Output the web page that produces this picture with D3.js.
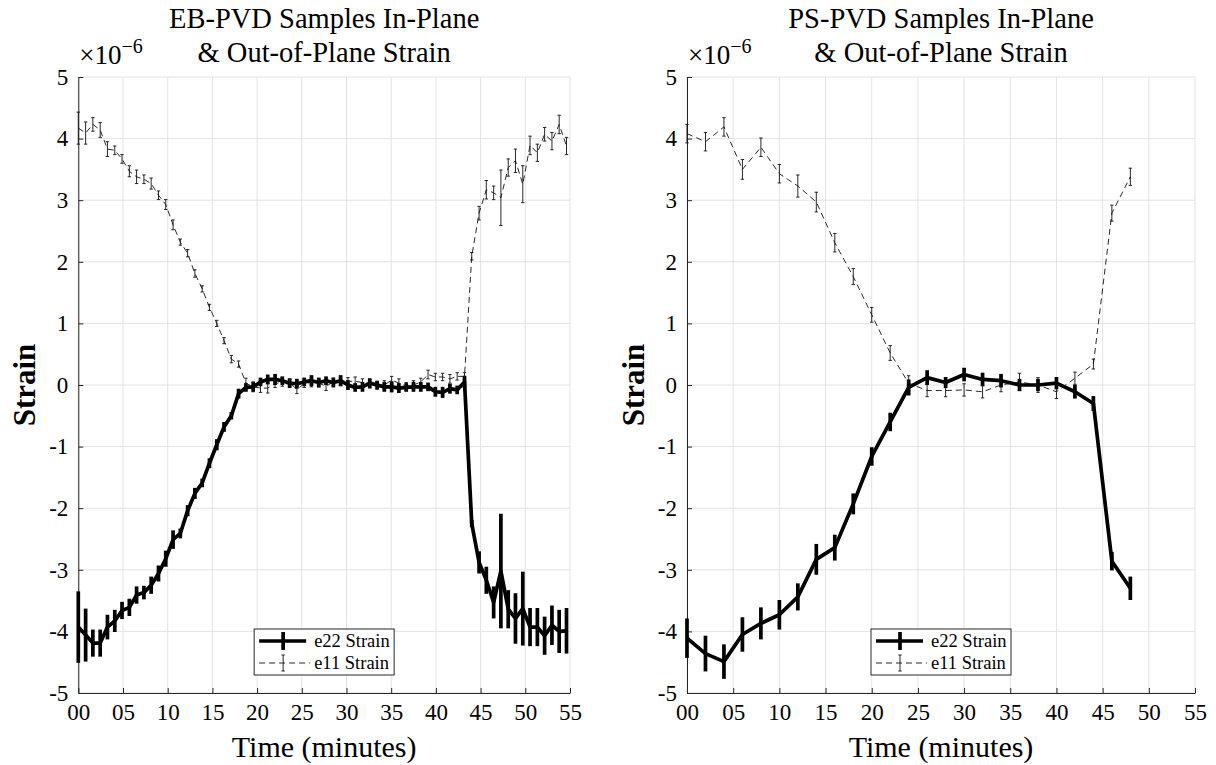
<!DOCTYPE html>
<html>
<head>
<meta charset="utf-8">
<script src="https://cdn.jsdelivr.net/npm/d3@7"></script>
<style>
  body { margin: 0; background: #fff; }
  svg text { font-family: "Liberation Serif", "DejaVu Serif", serif; fill: #000; }
</style>
</head>
<body>
<div id="canvas"></div>
<script>
// EB-PVD samples (strain in units of 1e-6), one frame every ~49 s
const ebTime = [
  0.00, 0.82, 1.63, 2.45, 3.26, 4.08, 4.89, 5.71, 6.52, 7.34,
  8.15, 8.97, 9.78, 10.60, 11.41, 12.23, 13.04, 13.86, 14.67, 15.49,
  16.30, 17.12, 17.93, 18.75, 19.56, 20.38, 21.19, 22.01, 22.82, 23.64,
  24.45, 25.27, 26.08, 26.90, 27.71, 28.53, 29.34, 30.16, 30.97, 31.79,
  32.60, 33.42, 34.23, 35.05, 35.86, 36.68, 37.49, 38.31, 39.12, 39.94,
  40.75, 41.57, 42.38, 43.20, 44.01, 44.83, 45.64, 46.46, 47.27, 48.09,
  48.90, 49.72, 50.53, 51.35, 52.16, 52.98, 53.79, 54.61
];
const ebE22 = [
  -3.93, -4.06, -4.19, -4.19, -3.93, -3.83, -3.66, -3.61, -3.41, -3.37,
  -3.25, -3.06, -2.82, -2.51, -2.41, -2.04, -1.76, -1.59, -1.27, -0.97,
  -0.68, -0.50, -0.14, -0.04, -0.03, 0.05, 0.09, 0.09, 0.07, 0.03,
  0.02, 0.05, 0.07, 0.04, 0.07, 0.04, 0.07, 0.00, -0.04, -0.03,
  0.03, 0.00, -0.03, -0.03, -0.05, -0.04, -0.03, -0.03, -0.03, -0.11,
  -0.12, -0.06, -0.08, 0.05, -2.25, -2.88, -3.17, -3.53, -3.02, -3.64,
  -3.79, -3.63, -3.93, -3.93, -4.07, -3.90, -4.00, -3.99
];
const ebE22Err = [
  0.58, 0.43, 0.22, 0.22, 0.20, 0.18, 0.14, 0.14, 0.14, 0.11,
  0.14, 0.13, 0.13, 0.15, 0.08, 0.09, 0.09, 0.07, 0.08, 0.09,
  0.08, 0.06, 0.08, 0.07, 0.08, 0.07, 0.08, 0.09, 0.07, 0.08,
  0.08, 0.07, 0.09, 0.08, 0.07, 0.08, 0.09, 0.08, 0.07, 0.08,
  0.08, 0.07, 0.08, 0.09, 0.08, 0.07, 0.08, 0.08, 0.07, 0.08,
  0.09, 0.08, 0.07, 0.10, 0.06, 0.18, 0.22, 0.26, 0.93, 0.31,
  0.41, 0.60, 0.31, 0.31, 0.31, 0.32, 0.35, 0.37
];
const ebE11 = [
  4.17, 4.09, 4.23, 4.14, 3.83, 3.81, 3.67, 3.47, 3.38, 3.34,
  3.27, 3.08, 2.93, 2.60, 2.32, 2.14, 1.81, 1.56, 1.26, 1.00,
  0.72, 0.42, 0.34, 0.03, -0.03, -0.05, -0.05, 0.02, 0.05, 0.03,
  -0.07, 0.02, 0.04, 0.03, -0.02, 0.05, 0.06, 0.06, 0.06, 0.04,
  0.02, -0.01, 0.00, 0.08, 0.03, -0.02, 0.00, 0.05, 0.17, 0.13,
  0.13, 0.10, 0.14, 0.14, 2.09, 2.79, 3.17, 3.12, 3.04, 3.53,
  3.64, 3.26, 3.89, 3.77, 4.07, 3.96, 4.23, 3.88
];
const ebE11Err = [
  0.26, 0.18, 0.11, 0.12, 0.12, 0.07, 0.07, 0.09, 0.11, 0.07,
  0.09, 0.07, 0.08, 0.08, 0.05, 0.06, 0.06, 0.05, 0.05, 0.05,
  0.05, 0.06, 0.05, 0.08, 0.08, 0.07, 0.08, 0.06, 0.07, 0.06,
  0.07, 0.06, 0.07, 0.06, 0.07, 0.06, 0.07, 0.06, 0.07, 0.06,
  0.07, 0.06, 0.07, 0.06, 0.07, 0.06, 0.07, 0.06, 0.07, 0.06,
  0.06, 0.07, 0.06, 0.06, 0.06, 0.11, 0.15, 0.11, 0.45, 0.14,
  0.19, 0.30, 0.15, 0.14, 0.11, 0.14, 0.15, 0.14
];

// PS-PVD samples, every 2 minutes
const psTime = [0, 2, 4, 6, 8, 10, 12, 14, 16, 18, 20, 22, 24, 26, 28, 30, 32, 34, 36, 38, 40, 42, 44, 46, 48];
const psE22 = [
  -4.11, -4.36, -4.49, -4.05, -3.87, -3.73, -3.44, -2.83, -2.64, -1.93,
  -1.16, -0.60, -0.04, 0.12, 0.04, 0.17, 0.09, 0.07, 0.00, 0.00,
  0.03, -0.11, -0.30, -2.86, -3.30
];
const psE22Err = [
  0.32, 0.29, 0.28, 0.28, 0.26, 0.24, 0.22, 0.25, 0.21, 0.17,
  0.15, 0.15, 0.13, 0.12, 0.09, 0.11, 0.11, 0.11, 0.10, 0.10,
  0.10, 0.11, 0.12, 0.15, 0.19
];
const psE11 = [
  4.08, 3.95, 4.19, 3.50, 3.86, 3.43, 3.23, 2.97, 2.31, 1.76,
  1.14, 0.52, 0.03, -0.09, -0.09, -0.08, -0.11, 0.00, 0.05, 0.00,
  -0.11, 0.11, 0.34, 2.79, 3.38
];
const psE11Err = [
  0.15, 0.15, 0.15, 0.16, 0.15, 0.15, 0.18, 0.16, 0.15, 0.13,
  0.12, 0.12, 0.12, 0.10, 0.10, 0.10, 0.10, 0.11, 0.14, 0.12,
  0.11, 0.10, 0.08, 0.13, 0.14
];

const xTicks = [0, 5, 10, 15, 20, 25, 30, 35, 40, 45, 50, 55];
const yTicks = [-5, -4, -3, -2, -1, 0, 1, 2, 3, 4, 5];
const legendLabels = ["e22 Strain", "e11 Strain"];

const width = 1216;
const height = 765;
const plotTop = 77, plotBottom = 693;

const svg = d3.select("#canvas").append("svg")
  .attr("width", width)
  .attr("height", height);

function drawPanel(p) {
  const x = d3.scaleLinear().domain([0, 55]).range([p.left, p.right]);
  const y = d3.scaleLinear().domain([-5, 5]).range([plotBottom, plotTop]);
  const g = svg.append("g");

  // grid
  g.selectAll(".gx").data(xTicks).enter().append("line")
    .attr("x1", d => x(d)).attr("x2", d => x(d))
    .attr("y1", plotTop).attr("y2", plotBottom)
    .attr("stroke", "#e3e3e3").attr("stroke-width", 1);
  g.selectAll(".gy").data(yTicks).enter().append("line")
    .attr("x1", p.left).attr("x2", p.right)
    .attr("y1", d => y(d)).attr("y2", d => y(d))
    .attr("stroke", "#e3e3e3").attr("stroke-width", 1);

  // axes
  const xAxis = g.append("g")
    .attr("transform", `translate(0,${plotBottom})`)
    .call(d3.axisBottom(x).tickValues(xTicks).tickSizeInner(-5).tickSizeOuter(0)
      .tickPadding(11).tickFormat(d3.format("02d")));
  const yAxis = g.append("g")
    .attr("transform", `translate(${p.left},0)`)
    .call(d3.axisLeft(y).tickValues(yTicks).tickSizeInner(-5).tickSizeOuter(0)
      .tickPadding(10).tickFormat(d => String(d)));
  [xAxis, yAxis].forEach(a => {
    a.selectAll("path, line").attr("stroke", "#262626").attr("stroke-width", 1);
    a.selectAll("text").attr("font-size", 23).attr("fill", "#000");
  });

  // exponent
  const ex = g.append("text").attr("x", p.left + 1).attr("y", 64).attr("font-size", 27);
  ex.append("tspan").text("\u00d710");
  ex.append("tspan").attr("dy", -11).attr("font-size", 20).text("\u22126");

  // titles & labels
  const cx = (p.left + p.right) / 2;
  g.append("text").attr("x", cx).attr("y", 28).attr("text-anchor", "middle")
    .attr("font-size", 28.5).text(p.title[0]);
  g.append("text").attr("x", cx).attr("y", 62).attr("text-anchor", "middle")
    .attr("font-size", 28.5).text(p.title[1]);
  g.append("text").attr("x", cx).attr("y", 757).attr("text-anchor", "middle")
    .attr("font-size", 30).text("Time (minutes)");
  g.append("text").attr("transform", `translate(${p.left - 43},385) rotate(-90)`)
    .attr("text-anchor", "middle").attr("font-size", 31).attr("font-weight", "bold")
    .text("Strain");

  const line = d3.line().x(d => x(d.t)).y(d => y(d.v));
  const s22 = p.time.map((t, i) => ({ t, v: p.e22[i], e: p.e22Err[i] }));
  const s11 = p.time.map((t, i) => ({ t, v: p.e11[i], e: p.e11Err[i] }));

  // e22: thick solid with thick bars
  g.append("path").datum(s22).attr("d", line)
    .attr("fill", "none").attr("stroke", "#000").attr("stroke-width", 3.7)
    .attr("stroke-linejoin", "round");
  g.selectAll(".b22").data(s22).enter().append("line")
    .attr("x1", d => x(d.t)).attr("x2", d => x(d.t))
    .attr("y1", d => y(d.v - d.e)).attr("y2", d => y(d.v + d.e))
    .attr("stroke", "#000").attr("stroke-width", 3.7);

  // e11: thin dashed with capped bars
  g.append("path").datum(s11).attr("d", line)
    .attr("fill", "none").attr("stroke", "#111").attr("stroke-width", 0.9)
    .attr("stroke-dasharray", "6,4");
  g.selectAll(".b11").data(s11).enter().append("path")
    .attr("d", d => {
      const xx = x(d.t), y0 = y(d.v - d.e), y1 = y(d.v + d.e);
      return `M${xx},${y0}V${y1}M${xx - 1.7},${y0}H${xx + 1.7}M${xx - 1.7},${y1}H${xx + 1.7}`;
    })
    .attr("fill", "none").attr("stroke", "#111").attr("stroke-width", 0.9);

  // legend
  const lg = g.append("g");
  lg.append("rect").attr("x", cx - 70).attr("y", 629).attr("width", 140).attr("height", 46)
    .attr("fill", "#fff").attr("stroke", "#262626").attr("stroke-width", 1);
  lg.append("line").attr("x1", cx - 65).attr("x2", cx - 18).attr("y1", 641).attr("y2", 641)
    .attr("stroke", "#000").attr("stroke-width", 3.7);
  lg.append("line").attr("x1", cx - 41).attr("x2", cx - 41).attr("y1", 632).attr("y2", 650)
    .attr("stroke", "#000").attr("stroke-width", 3.7);
  lg.append("line").attr("x1", cx - 65).attr("x2", cx - 14).attr("y1", 663).attr("y2", 663)
    .attr("stroke", "#111").attr("stroke-width", 0.9).attr("stroke-dasharray", "6,4");
  lg.append("path")
    .attr("d", `M${cx - 41},655V671M${cx - 42.7},655H${cx - 39.3}M${cx - 42.7},671H${cx - 39.3}`)
    .attr("fill", "none").attr("stroke", "#111").attr("stroke-width", 0.9);
  lg.selectAll(".lt").data(legendLabels).enter().append("text")
    .attr("x", cx - 10).attr("y", (d, i) => 647 + i * 22)
    .attr("font-size", 18.5).text(d => d);
}

drawPanel({
  left: 78.3, right: 570,
  title: ["EB-PVD Samples In-Plane", "& Out-of-Plane Strain"],
  time: ebTime, e22: ebE22, e22Err: ebE22Err, e11: ebE11, e11Err: ebE11Err
});
drawPanel({
  left: 687, right: 1195,
  title: ["PS-PVD Samples In-Plane", "& Out-of-Plane Strain"],
  time: psTime, e22: psE22, e22Err: psE22Err, e11: psE11, e11Err: psE11Err
});
</script>
</body>
</html>
